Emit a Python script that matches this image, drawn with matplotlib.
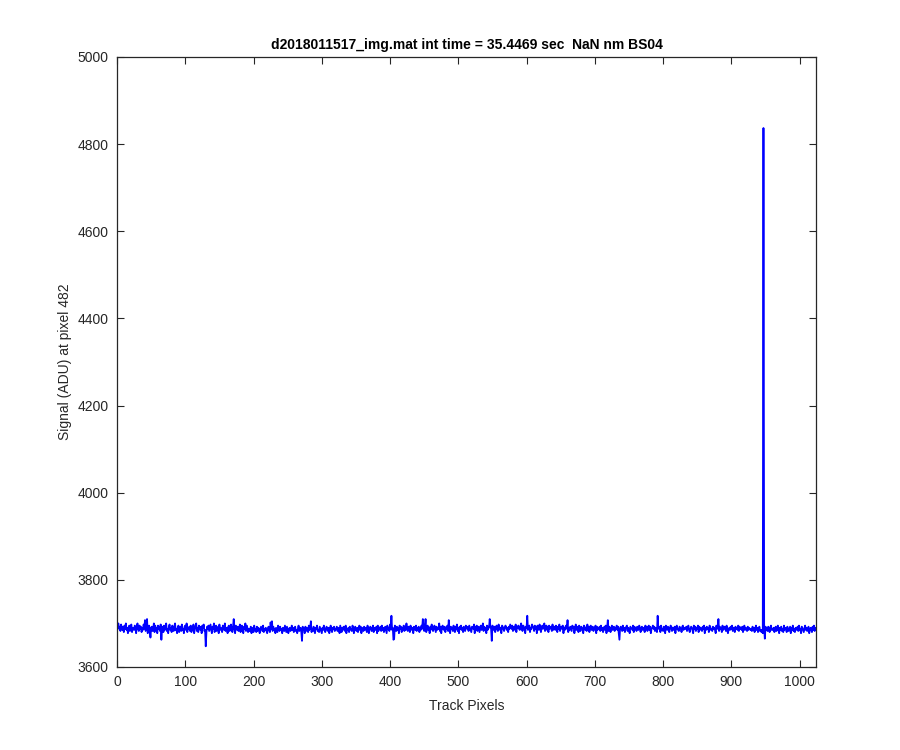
"""
Single-pixel signal trace along the track, MATLAB-style figure.
"""

import numpy as np
import matplotlib
matplotlib.use("Agg")
import matplotlib.pyplot as plt

# ---------------------------------------------------------------------------
# Data (one char per track pixel)
# code -> ADU:  value = BASE_ADU + STEP_ADU * CODE_ALPHABET.index(ch),  '*' = peak
# ---------------------------------------------------------------------------
CODE_ALPHABET = "0123456789ABCDEFGHIJKLMNOPQRSTUV"
BASE_ADU = 3645.0
STEP_ADU = 2.5
PEAK_ADU = 4837

signal_codes = [
    "KMHJFLIG JEKHMGID HKFJLEIH GKIDJMHF KHJEIGLH PFJQDHKG 9IJFHMEK GIDKHJFL",
    "7HJEKGIM FHDJLGIE KHFJMGHD IKEHJFLG HDJKGMEI HJFKEIGL DHJMFIEK HGJDKILF",
    "G1EJHKFI LGDJHMEI KFHJDLGI HEKJGMFH IDJKFHLG EJQHDKIG JFHLEIKG DJHMFKIE",
    "HFGJDIHE KGHEJFIH DGJHFKEH GIFDHJGE NHOFJGHD IGEKHFJG HDIGFKHE JGDHIFGK",
    "GIEHJFGD HKFGIE6J GHDJFIHE KGIOEHFJ GDIHKFGE JHFDIGKH EGJHFIDH KGEIHJFG",
    "HJFGIDKH EIGJHFKD HGIEJHGF KIDHJGFI EHKGJDIH FJGIHEKG DHJIFGKE IHGJDKFI",
    "HJFKGIEH JGDKHIFL HTGI78KH FJGIDKHJ EIHKFJGM HFJIEKHG IDJHGKFI HJEIGKHQ",
    "JFIQEHKG IDJHLGFI KHEJGIHM FJDIKHGJ EIHKFPGD JHIFKGEJ HLFIDJHK GIEJHFKI",
    "HJFKIGEJ IHLDJGKF IJEHKGIM FJHIDKGJ IQJH6KIG JEIKHFLJ GIDKJHFI KJGIEJHL",
    "JHKFIJGL EJIKHGJM IFKJHDJI TGJKEIHL JIFKHJDK IGLJEIKH JMFIKGJE KHIJFLGI",
    "JGKIEJHL FIJHKDIG JKHPEIGJ HFKIJDHL GIJEKHFJ IHDKJGIF LHJEIKGH JFIHKDJG",
    "IHJFKGIE HJGKDIPF JHEIKGHJ FIHKGJD7 IJHFKGIE HJKFIGDJ IHGKEJHI FJHGKIEH",
    "JGIHEKHJ FIKGJDHI KHJFIGET HIJEKGHF JIDKHGJI EHKJFIGH JDIKHGFJ IHEJKGIH",
    "HJFIKGEH JIGDKHJF IHKEJGIH FJHKDIGJ HIEKJGHF JHIGDKIH QFJHIEKG HJIFKGDH",
    "IGJHKFIH EJHIGKFJ HIGJEHKG IHFJGIHG HFJGIEHK GIEHJFGE GD*H8JGI FJHEIKGH",
    "GIEHJFGK HDIGJFHE KGHIEJGF HJDIGKFH EIHGJFKG HDJIGEHK GIFHJDGI HEJGKFIH",
]

TITLE = "d2018011517_img.mat int time = 35.4469 sec  NaN nm BS04"
X_LABEL = "Track Pixels"
Y_LABEL = "Signal (ADU) at pixel 482"
X_TICKS = [0, 100, 200, 300, 400, 500, 600, 700, 800, 900, 1000]
Y_TICKS = [3600, 3800, 4000, 4200, 4400, 4600, 4800, 5000]


def decode(lines):
    chars = "".join(lines).replace(" ", "")
    vals = []
    for ch in chars:
        if ch == "*":
            vals.append(PEAK_ADU)
        else:
            vals.append(BASE_ADU + STEP_ADU * CODE_ALPHABET.index(ch))
    return np.array(vals, dtype=float)


signal = decode(signal_codes)
pixels = np.arange(1, len(signal) + 1)

# ---------------------------------------------------------------------------
# Plot
# ---------------------------------------------------------------------------
plt.rcParams["font.family"] = ["Liberation Sans", "DejaVu Sans"]
AX_COLOR = "#262626"
FS = 10

fig = plt.figure(figsize=(9, 7.5), dpi=100)
ax = fig.add_axes([0.13, 0.1107, 0.7767, 0.8133])

ax.plot(pixels, signal, color="#0000ff", linewidth=1.3)

ax.set_xlim(0, 1024)
ax.set_ylim(3600, 5000)
ax.set_xticks(X_TICKS)
ax.set_yticks(Y_TICKS)

ax.tick_params(direction="in", top=True, right=True, length=5, width=0.8,
               colors=AX_COLOR, labelsize=FS, pad=6)
for sp in ax.spines.values():
    sp.set_color(AX_COLOR)
    sp.set_linewidth(0.9)

ax.set_title(TITLE, fontsize=FS, fontweight="bold", pad=6)
ax.set_xlabel(X_LABEL, fontsize=FS, color=AX_COLOR, labelpad=7)
ax.set_ylabel(Y_LABEL, fontsize=FS, color=AX_COLOR, labelpad=4)

fig.savefig("out.png", dpi=100)
plt.close(fig)
